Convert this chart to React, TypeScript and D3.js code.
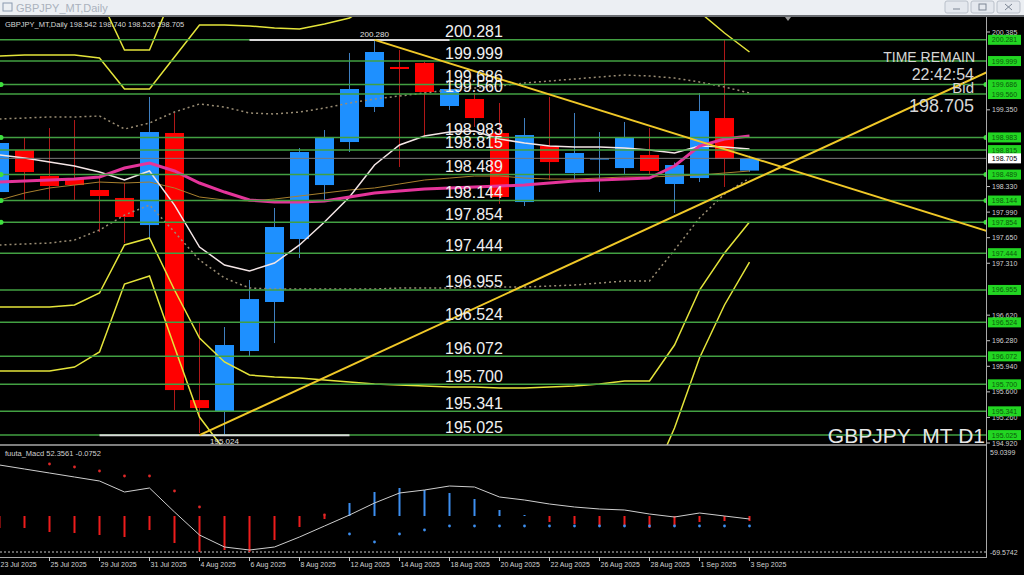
import React from "react";
import * as d3 from "d3";

// ---------- data ----------
const tickLabels = ["23 Jul 2025", "25 Jul 2025", "29 Jul 2025", "31 Jul 2025", "4 Aug 2025", "6 Aug 2025", "8 Aug 2025", "12 Aug 2025", "14 Aug 2025", "18 Aug 2025", "20 Aug 2025", "22 Aug 2025", "26 Aug 2025", "28 Aug 2025", "1 Sep 2025", "3 Sep 2025"];

const open = [198.257, 198.816, 198.470, 198.443, 198.284, 198.178, 197.818, 199.042, 195.491, 195.345, 196.143, 196.795, 197.632, 198.350, 198.922, 199.388, 199.920, 199.973, 199.401, 199.494, 199.042, 198.124, 198.869, 198.510, 198.700, 198.576, 198.749, 198.364, 198.443, 199.241, 198.542];
const high = [199.082, 198.989, 199.108, 199.215, 198.470, 198.377, 199.521, 199.308, 196.529, 196.462, 197.087, 198.045, 198.842, 199.082, 200.106, 200.280, 200.146, 199.986, 199.680, 199.574, 199.441, 199.241, 199.521, 199.308, 199.055, 199.188, 199.108, 198.650, 199.574, 200.280, 198.740];
const low = [198.151, 198.151, 198.151, 198.151, 197.725, 197.579, 197.619, 195.358, 195.052, 195.024, 196.077, 196.249, 197.380, 198.151, 198.789, 199.321, 198.590, 198.975, 199.348, 199.122, 198.100, 198.071, 198.417, 198.417, 198.257, 198.483, 198.483, 197.978, 198.390, 198.324, 198.526];
const close = [198.909, 198.523, 198.337, 198.350, 198.204, 197.925, 199.055, 195.624, 195.385, 196.223, 196.834, 197.792, 198.789, 198.989, 199.627, 200.119, 199.893, 199.587, 199.627, 199.241, 198.191, 199.015, 198.656, 198.776, 198.709, 198.989, 198.537, 198.616, 199.334, 198.696, 198.705];

const maPink = [198.390, 198.404, 198.417, 198.430, 198.457, 198.576, 198.643, 198.537, 198.377, 198.257, 198.151, 198.124, 198.124, 198.138, 198.191, 198.244, 198.271, 198.297, 198.311, 198.324, 198.337, 198.350, 198.377, 198.404, 198.417, 198.430, 198.443, 198.603, 198.869, 198.962, 199.002];
const maWhite = [198.749, 198.709, 198.656, 198.603, 198.523, 198.417, 198.537, 198.084, 197.526, 197.287, 197.207, 197.313, 197.553, 197.858, 198.191, 198.616, 198.882, 199.002, 199.055, 199.069, 198.962, 198.909, 198.869, 198.856, 198.856, 198.842, 198.816, 198.776, 198.869, 198.856, 198.829];
const maOrange = [198.151, 198.244, 198.311, 198.350, 198.390, 198.377, 198.390, 198.311, 198.191, 198.151, 198.138, 198.164, 198.204, 198.244, 198.284, 198.311, 198.364, 198.417, 198.443, 198.470, 198.470, 198.443, 198.430, 198.430, 198.443, 198.457, 198.457, 198.470, 198.483, 198.510, 198.537];
const bandUp1 = [199.228, 199.241, 199.255, 199.255, 199.268, 199.095, 199.175, 199.321, 199.428, 199.388, 199.308, 199.295, 199.321, 199.374, 199.441, 199.494, 199.534, 199.574, 199.614, 199.640, 199.667, 199.707, 199.733, 199.760, 199.787, 199.813, 199.800, 199.773, 199.720, 199.654, 199.574];
const bandDn1 = [197.553, 197.566, 197.579, 197.619, 197.752, 197.951, 198.084, 197.725, 197.353, 197.114, 196.981, 196.967, 196.967, 196.967, 196.967, 196.967, 196.981, 196.981, 196.981, 196.994, 196.994, 196.994, 197.007, 197.021, 197.047, 197.074, 197.074, 197.486, 197.912, 198.231, 198.443];
const bandUp2 = [200.066, 200.079, 200.079, 200.079, 200.039, 199.627, 199.627, 200.052, 200.478, 200.478, 200.465, 200.438, 200.425, 200.491, 200.571, 200.784, 200.850, 200.917, 200.957, 200.983, 201.023, 201.050, 201.090, 201.130, 201.130, 201.116, 201.143, 200.877, 200.651, 200.372, 200.119];
const bandDn2 = [196.728, 196.728, 196.728, 196.755, 196.914, 197.553, 197.646, 196.954, 196.316, 195.997, 195.824, 195.797, 195.784, 195.757, 195.731, 195.704, 195.691, 195.678, 195.664, 195.664, 195.651, 195.651, 195.664, 195.678, 195.704, 195.744, 195.744, 196.223, 196.954, 197.446, 197.858];
const bandUp3 = [200.904, 200.930, 200.957, 200.930, 200.850, 200.146, 200.146, 200.943, 201.489, 201.688, 201.662, 201.595, 201.595, 201.648, 201.861, 202.074, 202.180, 202.273, 202.300, 202.326, 202.366, 202.406, 202.446, 202.526, 202.526, 202.486, 202.526, 201.981, 201.688, 201.170, 200.678];
const bandDn3 = [195.877, 195.877, 195.877, 195.930, 196.130, 197.034, 197.140, 196.196, 195.265, 194.826, 194.640, 194.654, 194.654, 194.627, 194.521, 194.414, 194.361, 194.321, 194.321, 194.321, 194.308, 194.295, 194.308, 194.281, 194.308, 194.374, 194.361, 195.119, 196.050, 196.755, 197.326];

const levels = [200.281, 199.999, 199.686, 199.560, 198.983, 198.815, 198.489, 198.144, 197.854, 197.444, 196.955, 196.524, 196.072, 195.700, 195.341, 195.025];
const anchoredLevels = [199.686, 198.983, 198.489, 198.144, 197.854];
const axisLabels = [200.385, 199.350, 198.330, 197.990, 197.650, 197.310, 196.620, 196.280, 195.940, 195.600, 195.260, 194.920];
const bid = 198.705;

const trendDown = { i1: 15, p1: 200.280, i2: 30, p2: 198.724 };
const trendUp = { i1: 8, p1: 195.024, i2: 30, p2: 198.396 };
const highMark = { price: 200.280, label: "200.280", at: 15, from: 10, to: 18 };
const lowMark = { price: 195.024, label: "195.024", at: 9, from: 4, to: 14 };

const macdLine = [51, 47, 43, 39, 35, 24, 28, 4, -19, -31, -34, -31, -21, -10, 1, 13, 23, 26, 30, 29, 19, 16, 12, 9, 7, 6, 2, -1, 3, 0, -3];
const macdHist = [-12, -12, -16, -17, -19, -21, -14, -27, -36, -34, -36, -24, -11, -3, 13, 24, 28, 26, 23, 17, 6, 1, -6, -8, -10, -10, -12, -10, -6, -5, -5];
const macdSignal: (number | null)[] = [null, null, 52, 49, 45, 40, 40, 25, 9, null, null, null, null, 1, -18, -26, -18, -14, -10, -10, -10, -10, -10, -10, -10, -10, -10, -10, -10, -10, -10];
const macdScaleLabels = ["59.0399", "-69.5742"];

const FONT = "'Liberation Sans', Arial, sans-serif";

export default function App() {
  const xs = d3.scaleLinear().domain([0, 30]).range([-0.5, 749.5]);
  const ys = d3.scaleLinear().domain([194.92, 200.385]).range([443, 32]);
  const ms = d3.scaleLinear().domain([-36, 68]).range([552, 448]);
  const xEnd = xs.invert(987);
  const path = (vals: number[]) =>
    d3.line<number>().x((_, i) => xs(i)).y((v) => ys(v))(vals) || "";
  const ray = (t: { i1: number; p1: number; i2: number; p2: number }) => {
    const slope = (t.p2 - t.p1) / (t.i2 - t.i1);
    return { x1: xs(t.i1), y1: ys(t.p1), x2: xs(xEnd), y2: ys(t.p1 + slope * (xEnd - t.i1)) };
  };
  const td = ray(trendDown);
  const tu = ray(trendUp);
  const BLUE = "#1e90ff";
  const RED = "#ff0000";

  return (
    <svg width={1024} height={575} style={{ position: "absolute", left: 0, top: 0, display: "block" }} fontFamily={FONT}>
      <defs>
        <clipPath id="mainClip"><rect x={0} y={17} width={986} height={428} /></clipPath>
        <clipPath id="subClip"><rect x={0} y={446} width={986} height={111} /></clipPath>
      </defs>
      <rect x={0} y={0} width={1024} height={575} fill="#000" />
      {/* window title bar */}
      <rect x={0} y={0} width={1024} height={15} fill="#eceff3" />
      <rect x={0} y={15} width={1024} height={2} fill="#6a6d72" />
      <rect x={3} y={3} width={9} height={8} fill="none" stroke="#8a9ab0" />
      <text x={16} y={12} fontSize={11} fill="#aab2bd">GBPJPY_MT,Daily</text>
      {[945, 971, 997].map((bx, k) => (
        <g key={bx}>
          <rect x={bx} y={1} width={23} height={12} fill="#e4e8ee" stroke="#b9c0ca" rx={2} />
          {k === 0 && <line x1={bx + 8} x2={bx + 15} y1={9} y2={9} stroke="#7c8694" />}
          {k === 1 && <rect x={bx + 8} y={4} width={7} height={6} fill="none" stroke="#7c8694" />}
          {k === 2 && <path d={`M${bx + 8},4 L${bx + 15},10 M${bx + 15},4 L${bx + 8},10`} stroke="#7c8694" />}
        </g>
      ))}

      {/* main panel */}
      <g clipPath="url(#mainClip)">
        {/* candles */}
        {open.map((o, i) => {
          const c = close[i];
          const up = c >= o;
          const top = ys(Math.max(o, c));
          const bot = ys(Math.min(o, c));
          return (
            <g key={i}>
              <line x1={xs(i)} x2={xs(i)} y1={ys(high[i])} y2={ys(low[i])} stroke={up ? "#3f7fc0" : "#b01818"} strokeWidth={1} />
              <rect x={xs(i) - 9.5} y={top} width={19} height={Math.max(1.5, bot - top)} fill={up ? BLUE : RED} />
            </g>
          );
        })}
        {/* bands */}
        {[bandUp3, bandUp2, bandDn2, bandDn3].map((b, k) => (
          <path key={"b" + k} d={path(b)} fill="none" stroke="#e4e43a" strokeWidth={1.5} />
        ))}
        {[bandUp1, bandDn1].map((b, k) => (
          <path key={"d" + k} d={path(b)} fill="none" stroke="#9a8d74" strokeWidth={1.5} strokeDasharray="2 3" />
        ))}
        <path d={path(maOrange)} fill="none" stroke="#a8802e" strokeWidth={1} />
        <path d={path(maWhite)} fill="none" stroke="#f4e6e6" strokeWidth={1.5} />
        <path d={path(maPink)} fill="none" stroke="#e4349a" strokeWidth={3} />

        {/* bid line */}
        <line x1={0} x2={987} y1={ys(bid)} y2={ys(bid)} stroke="#7a7a7a" strokeWidth={1} />
        {/* horizontal levels */}
        {levels.map((lv) => (
          <line key={lv} x1={0} x2={987} y1={ys(lv)} y2={ys(lv)} stroke="#42a042" strokeWidth={1.5} />
        ))}
        {anchoredLevels.map((lv) => (
          <g key={"a" + lv}>
            <circle cx={1} cy={ys(lv)} r={2.5} fill="#3ee03e" />
            <circle cx={986} cy={ys(lv)} r={2.5} fill="#3ee03e" />
          </g>
        ))}
        {/* extreme markers */}
        <line x1={xs(highMark.from)} x2={xs(highMark.to)} y1={ys(highMark.price)} y2={ys(highMark.price)} stroke="#d8d8d8" strokeWidth={2} />
        <line x1={xs(lowMark.from)} x2={xs(lowMark.to)} y1={ys(lowMark.price)} y2={ys(lowMark.price)} stroke="#d8d8d8" strokeWidth={2} />
        {/* trend lines */}
        <line x1={td.x1} y1={td.y1} x2={td.x2} y2={td.y2} stroke="#f0c828" strokeWidth={2} />
        <line x1={tu.x1} y1={tu.y1} x2={tu.x2} y2={tu.y2} stroke="#f0c828" strokeWidth={2} />
        <text x={xs(highMark.at)} y={ys(highMark.price) - 3} fontSize={8} fill="#e0e0e0" textAnchor="middle">{highMark.label}</text>
        <text x={xs(lowMark.at)} y={ys(lowMark.price) + 9} fontSize={8} fill="#e0e0e0" textAnchor="middle">{lowMark.label}</text>
        {/* level labels */}
        {levels.map((lv) => (
          <text key={"t" + lv} x={445} y={ys(lv) - 2.5} fontSize={16} fill="#f0f0f0">{lv.toFixed(3)}</text>
        ))}
        {/* info texts */}
        <text x={5} y={27} fontSize={7.5} fill="#d8d8d8">GBPJPY_MT,Daily  198.542 198.740 198.526 198.705</text>
        <text x={975} y={62} fontSize={14} fill="#d6d6d6" textAnchor="end">TIME REMAIN</text>
        <text x={974} y={80} fontSize={16} fill="#d6d6d6" textAnchor="end">22:42:54</text>
        <text x={974} y={93} fontSize={15} fill="#d6d6d6" textAnchor="end">Bid</text>
        <text x={974} y={112} fontSize={18} fill="#d6d6d6" textAnchor="end">{bid.toFixed(3)}</text>
        <text x={985} y={443} fontSize={21} fill="#e8e8e8" textAnchor="end">GBPJPY_MT D1</text>
        <path d="M785,17 L791,17 L788,21 Z" fill="#9a9a9a" />
      </g>

      {/* frames */}
      <line x1={0} x2={987} y1={445} y2={445} stroke="#a8a8a8" strokeWidth={1.5} />
      <line x1={0} x2={987} y1={557.5} y2={557.5} stroke="#a8a8a8" strokeWidth={1} />
      <line x1={986.5} x2={986.5} y1={17} y2={558} stroke="#a8a8a8" strokeWidth={1} />

      {/* right price axis */}
      {axisLabels.map((v) => (
        <g key={"ax" + v}>
          <line x1={987} x2={990} y1={ys(v)} y2={ys(v)} stroke="#c8c8c8" />
          <text x={992} y={ys(v) + 2.5} fontSize={7} fill="#d0d0d0">{v.toFixed(3)}</text>
        </g>
      ))}
      {levels.map((lv) => (
        <g key={"tag" + lv}>
          <rect x={988} y={ys(lv) - 5} width={33} height={10} fill="#22d622" />
          <text x={1004.5} y={ys(lv) + 2.5} fontSize={7} fill="#0c5a0c" textAnchor="middle">{lv.toFixed(3)}</text>
        </g>
      ))}
      <rect x={988} y={ys(bid) - 5} width={33} height={10} fill="#ffffff" />
      <text x={1004.5} y={ys(bid) + 2.5} fontSize={7} fill="#000" textAnchor="middle">{bid.toFixed(3)}</text>

      {/* MACD sub window */}
      <g clipPath="url(#subClip)">
        <line x1={0} x2={986} y1={ms(-36)} y2={ms(-36)} stroke="#c8c8c8" strokeWidth={1} strokeDasharray="2 2" />
        {macdHist.map((h, i) => (
          <line key={"h" + i} x1={xs(i)} x2={xs(i)} y1={ms(0)} y2={ms(h)} stroke={h >= 0 ? "#3d8ff0" : "#ee1c1c"} strokeWidth={2} />
        ))}
        <path d={d3.line<number>().x((_, i) => xs(i)).y((v) => ms(v))(macdLine) || ""} fill="none" stroke="#cfcfcf" strokeWidth={1} />
        {macdSignal.map((s, i) =>
          s === null ? null : (
            <circle key={"s" + i} cx={xs(i)} cy={ms(s)} r={1.4} fill={i <= 13 ? "#e02828" : "#3d8ff0"} />
          )
        )}
        <text x={5} y={456} fontSize={7.5} fill="#d0d0d0">fuuta_Macd 52.3561  -0.0752</text>
      </g>
      <text x={990} y={455} fontSize={7} fill="#d0d0d0">{macdScaleLabels[0]}</text>
      <text x={990} y={555} fontSize={7} fill="#d0d0d0">{macdScaleLabels[1]}</text>

      {/* time axis */}
      {tickLabels.map((t, k) => (
        <g key={t}>
          <line x1={xs(k * 2)} x2={xs(k * 2)} y1={557} y2={561} stroke="#c8c8c8" />
          <text x={xs(k * 2) + 1} y={567} fontSize={7} fill="#d4d4d4">{t}</text>
        </g>
      ))}
    </svg>
  );
}
